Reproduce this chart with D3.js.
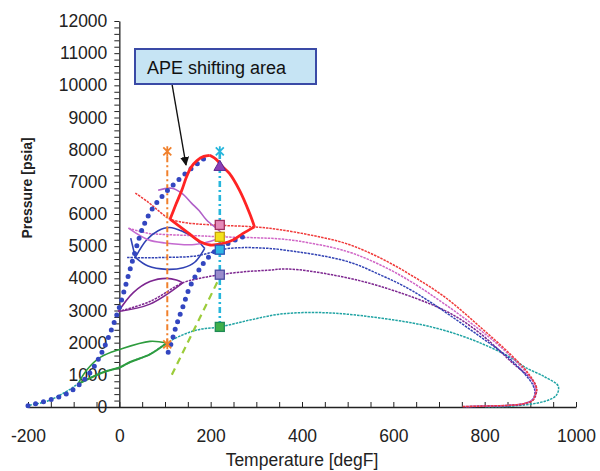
<!DOCTYPE html>
<html>
<head>
<meta charset="utf-8">
<script src="https://cdn.jsdelivr.net/npm/d3@7"></script>
<style>
  body { margin: 0; background: #fff; }
  svg { display: block; font-family: "Liberation Sans", Arial, sans-serif; }
</style>
</head>
<body>
<svg id="chart" width="600" height="471"></svg>
<script>
// ---- Axis ticks ----
const tempTicks = [-200, 0, 200, 400, 600, 800, 1000];
const pressureTicks = [0, 1000, 2000, 3000, 4000, 5000, 6000, 7000, 8000, 9000, 10000, 11000, 12000];
const tempMinorStep = 50;
const pressureMinorStep = 200;

// ---- Asphaltene precipitation envelope (APE), [degF, psia] ----
const apeUpper = [[-200,40],[-150,230],[-120,380],[-100,550],[-80,800],[-60,1150],[-40,1650],[-20,2300],
  [0,3100],[20,4100],[35,4850],[52,5600],[74,6200],[100,6650],[125,7000],[150,7320],[176,7620],[195,7820]];
const apeLower = [[107,1700],[115,2040],[122,2400],[130,2750],[140,3150],[152,3650],[167,4080],[183,4450],
  [200,4720],[220,4950],[241,5100],[260,5230],[280,5350]];

// ---- APE shifting area outline ----
const shiftLeft = [[111,5840],[124,6300],[137,6745],[147,7150],[157,7450],[170,7660],[185,7790],[198,7825]];
const shiftRight = [[198,7825],[212,7700],[226,7470],[241,7260],[263,6740],[285,6030],[296,5600]];
const shiftBottom = [[296,5600],[270,5390],[249,5191],[225,5080],[199,5036],[177,5140],[150,5420],[111,5840]];

// ---- Phase envelopes for each fluid ----
const envRed = [[35,6650],[63,6370],[90,6050],[111,5840],[150,5720],[220,5650],[296,5600],[352,5511],[424,5330],
  [497,5080],[569,4650],[642,4072],[714,3404],[787,2527],[859,1601],[896,1035],[914,572],[910,350],[906,211],
  [888,109],[859,57],[787,25],[750,15]];
const envPink = [[20,5560],[63,5400],[104,5360],[176,5320],[220,5290],[300,5260],[352,5225],[396,5150],[497,4843],
  [569,4433],[642,3867],[787,2425],[859,1548],[906,777],[911,450],[905,230],[888,115],[859,60],[787,25],[752,12]];
const envBlue = [[17,4650],[60,4640],[100,4650],[165,4690],[200,4800],[220,4890],[260,4950],[300,4950],[352,4896],
  [497,4535],[569,4122],[642,3609],[787,2219],[859,1445],[906,675],[910,420],[904,220],[888,110],[859,55],[787,22],[755,10]];
const envPurple = [[-2,2970],[67,3280],[139,3860],[180,4010],[220,4113],[270,4200],[323,4250],[370,4290],[461,4122],
  [569,3761],[714,2990],[787,2322],[859,1396],[910,727],[913,420],[905,210],[888,105],[859,52],[787,20],[760,8]];
const envTeal = [[-204,40],[-157,186],[-107,557],[-91,711],[-35,1082],[2,1237],[24,1400],[67,1639],[104,1990],
  [140,2250],[176,2412],[220,2490],[286,2704],[352,2888],[424,2937],[497,2888],[642,2611],[714,2372],[787,2011],
  [859,1522],[888,1240],[932,933],[961,652],[957,366],[932,180],[859,25],[801,6]];

// ---- Multi-phase loops ----
const loopGreenUpper = [[-91,711],[-70,1175],[-41,1550],[2,1794],[67,2041],[104,1990]];
const loopGreenLower = [[-91,711],[-35,1082],[2,1237],[24,1400],[67,1639],[104,1990]];
const loopPurpleUpper = [[-2,2970],[30,3550],[67,3900],[104,4000],[125,3950],[139,3860]];
const loopPurpleLower = [[-2,2970],[67,3200],[139,3860]];
const loopBlueUpper = [[35,4650],[60,5200],[85,5480],[110,5580],[140,5450],[165,5250],[187,4930]];
const loopBlueLower = [[35,4650],[63,4380],[104,4280],[140,4330],[165,4500],[187,4930]];
const loopBlueTail = [[25,5250],[35,4650]];
const loopPinkLower = [[20,5560],[63,5200],[100,5100],[165,5050],[200,5150],[225,5290]];
const loopViolet = [[85,6740],[115,6800],[137,6640],[158,6340],[175,6100],[191,5813],[217,5502],[232,5300]];

// ---- Reference lines ----
const lineOrange = [[105,1950],[105,7950]];
const lineCyan = [[220,2490],[220,7950]];
const lineGreenDash = [[115,1000],[220,4040]];

// ---- Markers on the 220 degF line ----
const markerTriangle = [220, 7460];
const squareValues = [5660, 5290, 4890, 4113, 2490];
const squareFills = ["#e58ab8", "#f3e21c", "#2fb5e3", "#9a8ccc", "#3fb04a"];
const squareStrokes = ["#a0305e", "#c7a20a", "#2e55b8", "#4d4ca0", "#1f8a55"];
const starPoints = [[105,7950,"#f0802c"],[220,7950,"#26b6dc"],[105,1950,"#f0802c"]];

// ---- Layout ----
const svg = d3.select("#chart");
const x = d3.scaleLinear().domain([-200, 1000]).range([28, 576]);
const y = d3.scaleLinear().domain([0, 12000]).range([407, 21]);

const smooth = d3.line().x(d => x(d[0])).y(d => y(d[1])).curve(d3.curveCatmullRom.alpha(0.5));
const straight = d3.line().x(d => x(d[0])).y(d => y(d[1]));

function draw(data, color, width, dash, gen) {
  svg.append("path").attr("d", (gen || smooth)(data))
    .attr("fill", "none").attr("stroke", color).attr("stroke-width", width)
    .attr("stroke-dasharray", dash || null)
    .attr("stroke-linecap", dash && dash.startsWith("0,") ? "round" : "butt")
    .attr("stroke-linejoin", "round");
}

// Axes
const yMinor = d3.range(0, 12001, pressureMinorStep);
const yAxis = d3.axisLeft(y).tickValues(yMinor).tickSize(5).tickSizeOuter(0).tickPadding(7)
  .tickFormat(d => pressureTicks.includes(d) ? d : "");
const gy = svg.append("g").attr("transform", `translate(${x(0)},0)`).call(yAxis);

const xMinor = d3.range(-200, 1001, tempMinorStep);
const xAxis = d3.axisBottom(x).tickValues(xMinor).tickSizeInner(-5).tickSizeOuter(0).tickPadding(23)
  .tickFormat(d => tempTicks.includes(d) ? d : "");
const gx = svg.append("g").attr("transform", `translate(0,${y(0)})`).call(xAxis);

[gx, gy].forEach(g => {
  g.select(".domain").attr("stroke", "#222").attr("stroke-width", 1.3);
  g.selectAll(".tick line").attr("stroke", "#222").attr("stroke-width", 1);
  g.selectAll(".tick text").attr("fill", "#222").style("font-size", "17.5px")
    .style("font-family", '"Liberation Sans", Arial, sans-serif');
});

// Axis titles
svg.append("text").attr("x", x(400)).attr("y", 466).attr("text-anchor", "middle")
  .attr("fill", "#222").style("font-size", "17.5px").text("Temperature [degF]");
svg.append("text").attr("transform", `translate(32,188) rotate(-90)`).attr("text-anchor", "middle")
  .attr("fill", "#222").style("font-size", "14px").style("font-weight", "bold").text("Pressure [psia]");

// Phase envelopes (fine dotted traces)
draw(envTeal, "#1fa3a3", 1.5, "2.5,1");
draw(envPurple, "#7d2690", 1.5, "2.5,1");
draw(envBlue, "#3142b4", 1.5, "2.5,1");
draw(envPink, "#d065c6", 1.5, "2.5,1");
draw(envRed, "#f03a3a", 1.5, "2.5,1");

// Loops
draw(loopGreenUpper, "#2e9c3e", 1.6);
draw(loopGreenLower, "#2e9c3e", 2);
draw(loopPurpleUpper, "#7d2690", 1.6);
draw(loopPurpleLower, "#7d2690", 1.4);
draw(loopBlueUpper, "#3142b4", 1.6);
draw(loopBlueLower, "#3142b4", 1.6);
draw(loopBlueTail, "#3142b4", 1.6);
draw(loopPinkLower, "#c46ad0", 1.6);
draw(loopViolet, "#b060c8", 1.6);

// Reference lines
draw(lineGreenDash, "#9ccc3a", 2.2, "7,5", straight);
draw(lineOrange, "#f0802c", 2, "6,3,2,3", straight);
draw(lineCyan, "#26b6dc", 2.6, "6,3,2,3", straight);

// APE (big dotted line)
draw(apeUpper, "#3346c0", 5, "0,8");
draw(apeLower, "#3346c0", 5, "0,8");

// Shifting area outline
draw(shiftLeft, "#ff2424", 2.8);
draw(shiftRight, "#ff2424", 2.8);
draw(shiftBottom, "#ff2424", 2.8);

// Markers
svg.append("path")
  .attr("d", d3.symbol(d3.symbolTriangle, 60)())
  .attr("transform", `translate(${x(markerTriangle[0])},${y(markerTriangle[1])})`)
  .attr("fill", "#8a3fb8").attr("stroke", "#5a2a90").attr("stroke-width", 1);

svg.selectAll("rect.sq").data(squareValues).enter().append("rect")
  .attr("class", "sq")
  .attr("x", x(220) - 4.5).attr("y", d => y(d) - 4.5)
  .attr("width", 9).attr("height", 9)
  .attr("fill", (d, i) => squareFills[i]).attr("stroke", (d, i) => squareStrokes[i]).attr("stroke-width", 1.3);

starPoints.forEach(([t, p, c]) => {
  const cx = x(t), cy = y(p);
  svg.append("path")
    .attr("d", `M${cx-4},${cy-4}L${cx+4},${cy+4}M${cx-4},${cy+4}L${cx+4},${cy-4}M${cx},${cy-5}L${cx},${cy+5}`)
    .attr("stroke", c).attr("stroke-width", 1.8).attr("fill", "none");
});

// Callout box and arrow
const defs = svg.append("defs");
defs.append("marker").attr("id", "arrow").attr("viewBox", "0 0 10 10")
  .attr("refX", 9).attr("refY", 5).attr("markerWidth", 9).attr("markerHeight", 9)
  .attr("markerUnits", "userSpaceOnUse").attr("orient", "auto")
  .append("path").attr("d", "M0,0L10,5L0,10Z").attr("fill", "#111");

svg.append("line").attr("x1", 172).attr("y1", 84).attr("x2", 186).attr("y2", 165)
  .attr("stroke", "#111").attr("stroke-width", 1.4).attr("marker-end", "url(#arrow)");

svg.append("rect").attr("x", 135).attr("y", 49).attr("width", 181).attr("height", 35)
  .attr("fill", "#c6e4f4").attr("stroke", "#3a4aa6").attr("stroke-width", 2);
svg.append("text").attr("x", 147).attr("y", 74).attr("fill", "#111")
  .style("font-size", "18px").text("APE shifting area");
</script>
</body>
</html>
